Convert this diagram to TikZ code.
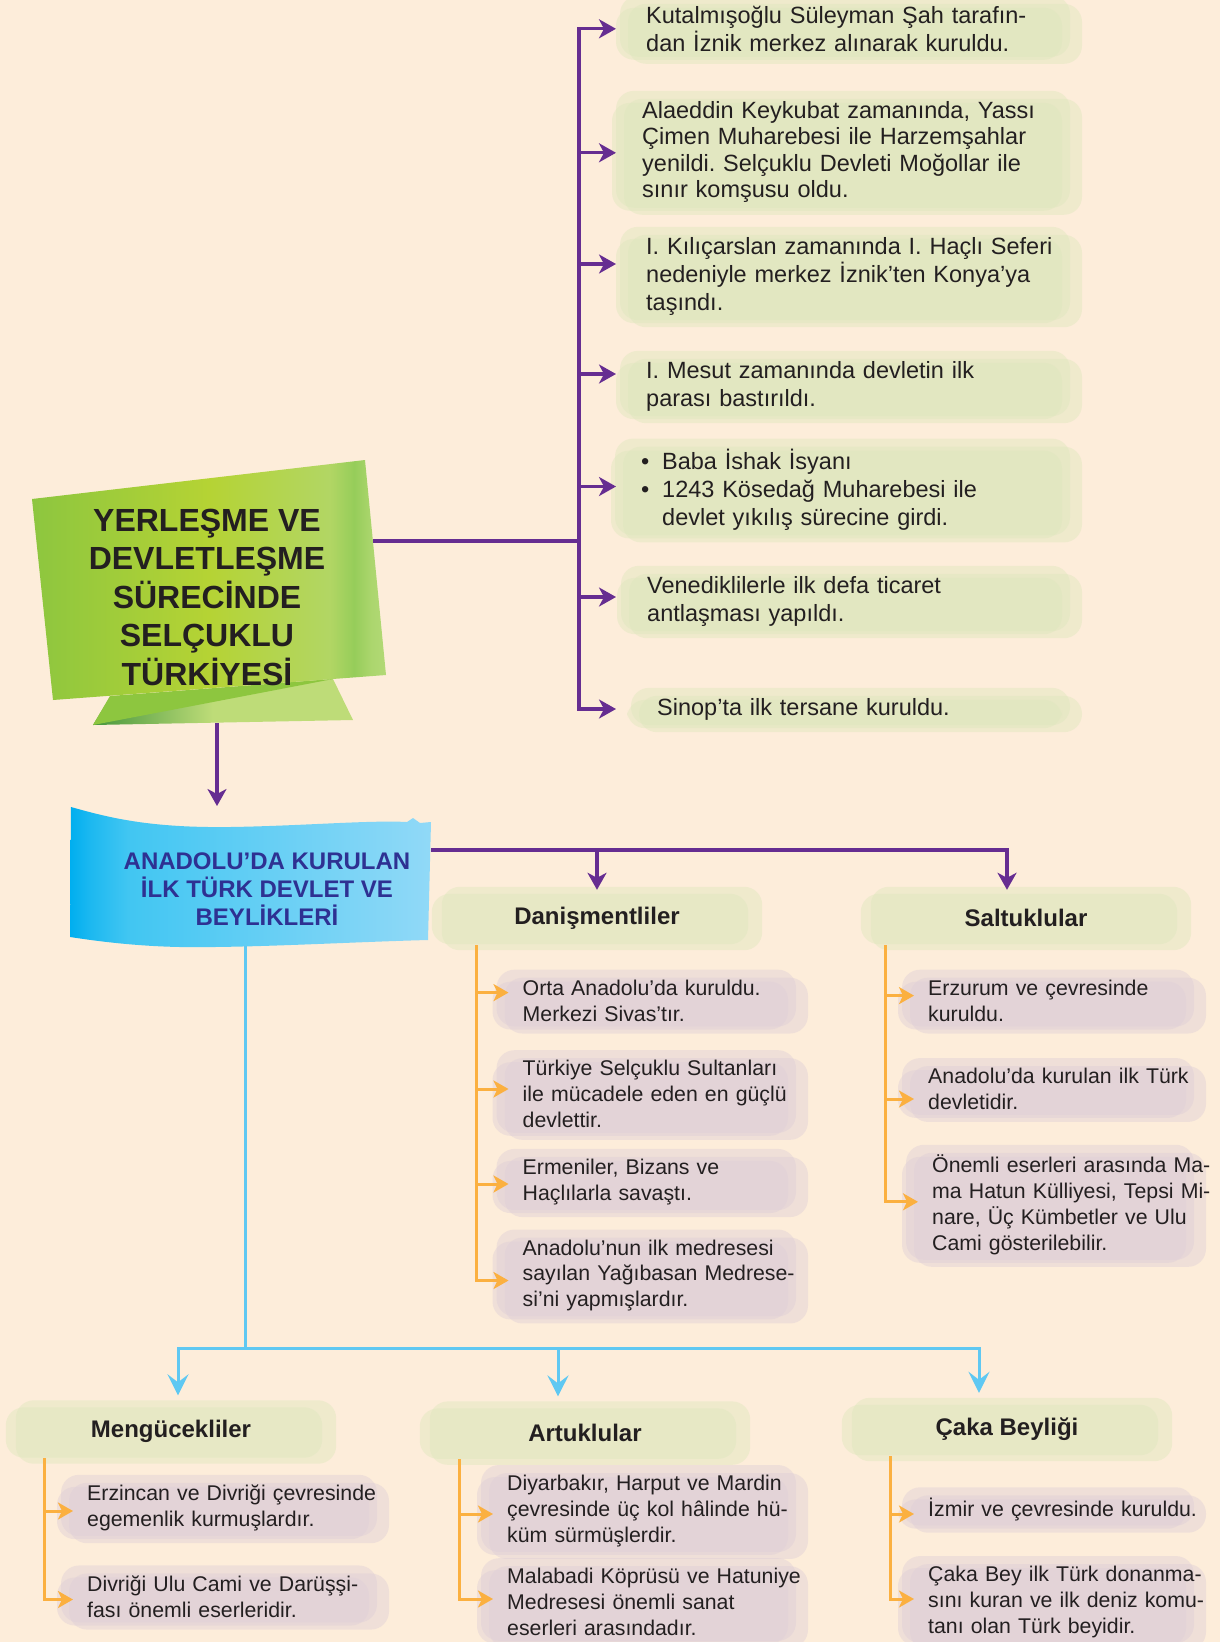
\documentclass[tikz,border=0pt]{standalone}
\usepackage{fontspec}
\setmainfont{Liberation Sans}
\usetikzlibrary{arrows.meta,positioning,calc,backgrounds}
\frenchspacing

\definecolor{bgc}{RGB}{253,237,218}
\definecolor{purp}{RGB}{102,45,145}
\definecolor{oran}{RGB}{251,176,64}
\definecolor{skyb}{RGB}{95,200,242}
\definecolor{gbl}{RGB}{222,231,189}
\definecolor{mbl}{RGB}{223,207,215}
\definecolor{navy}{RGB}{46,49,146}
\definecolor{ink}{RGB}{35,31,32}
\definecolor{gA}{RGB}{141,198,63}
\definecolor{gB}{RGB}{181,211,52}
\definecolor{gC}{RGB}{178,214,100}
\definecolor{gD}{RGB}{150,205,90}
\definecolor{gE}{RGB}{172,214,110}
\definecolor{gF}{RGB}{178,217,118}
\definecolor{fA}{RGB}{70,150,60}
\definecolor{fB}{RGB}{190,220,120}
\definecolor{cA}{RGB}{0,174,239}
\definecolor{cB}{RGB}{30,185,240}
\definecolor{cC}{RGB}{65,198,242}
\definecolor{cD}{RGB}{145,217,247}

\pgfdeclarehorizontalshading{greenbox}{100bp}{color(0bp)=(gA); color(25bp)=(gA); color(50bp)=(gB); color(67bp)=(gC); color(70.5bp)=(gD); color(73bp)=(gE); color(75bp)=(gF); color(100bp)=(gF)}
\pgfdeclarehorizontalshading{greenfold}{100bp}{color(0bp)=(fA); color(25bp)=(fA); color(48bp)=(fB); color(100bp)=(fB)}
\pgfdeclarehorizontalshading{bluebanner}{100bp}{color(0bp)=(cA); color(25bp)=(cA); color(28bp)=(cB); color(33bp)=(cC); color(75bp)=(cD); color(100bp)=(cD)}

\begin{document}
\begin{tikzpicture}
[x=1pt,y=-1pt,
pline/.style={draw=purp,line width=3.2pt},
parrow/.style={pline,-{Stealth[length=17pt,width=19pt,inset=5pt]}},
oline/.style={draw=oran,line width=3pt},
oarrow/.style={oline,-{Stealth[length=15pt,width=17pt,inset=4pt]}},
bline/.style={draw=skyb,line width=3pt},
barrow/.style={bline,-{Stealth[length=21pt,width=21pt,inset=8pt]}},
trunk/.style={line cap=rect},
ptext/.style={anchor=west,align=left,text width=415pt,inner sep=0pt,text=ink,font=\fontsize{23.5}{28}\selectfont},
otext/.style={anchor=west,align=left,text width=300pt,inner sep=0pt,text=ink,font=\fontsize{21.3}{25.8}\selectfont},
hdr/.style={minimum width=330pt,minimum height=56pt,inner sep=0pt,text=ink,font=\bfseries\fontsize{24}{28}\selectfont},
blob/.style={rounded corners=18pt,fill opacity=.45}]
\useasboundingbox (0,0) rectangle (1220,1642);
\begin{pgfonlayer}{background}
\fill[bgc] (0,0) rectangle (1220,1642);
\end{pgfonlayer}
%%
%% title ribbon
\shade[shading=greenfold] (93,725) -- (110,697) -- (333,679) -- (353,720) -- cycle;
\fill[gA] (93,725) -- (110,696) -- (333,679) -- cycle;
\shade[shading=greenbox] (32,499) -- (365,460) -- (386,675) -- (53,700) -- cycle;
\node (title) [align=center,text=ink,font=\bfseries\fontsize{32}{38.5}\selectfont] at (207,597) {YERLEŞME VE\\DEVLETLEŞME\\SÜRECİNDE\\SELÇUKLU\\TÜRKİYESİ};
%% blue banner
\shade[shading=bluebanner] (71,807) .. controls (110,818) and (150,828) .. (230,827) .. controls (300,826) and (370,820) .. (407,822) -- (413,818) -- (420,823) -- (431,822) -- (428,940) .. controls (350,942) and (250,948) .. (180,947) .. controls (130,946) and (90,940) .. (70,937) -- cycle;
\node (ban) [align=center,text=navy,font=\bfseries\fontsize{24}{28}\selectfont] at (267,889) {ANADOLU’DA KURULAN\\İLK TÜRK DEVLET VE\\BEYLİKLERİ};
%%
%% purple column
\node (p1) [ptext] at (646,28.8) {Kutalmışoğlu Süleyman Şah tarafın-\\dan İznik merkez alınarak kuruldu.};
\node (p2) [ptext,font=\fontsize{23.5}{26.5}\selectfont] at (642,151.8) {Alaeddin Keykubat zamanında, Yassı\\Çimen Muharebesi ile Harzemşahlar\\yenildi. Selçuklu Devleti Moğollar ile\\sınır komşusu oldu.};
\node (p3) [ptext] at (646,276) {I. Kılıçarslan zamanında I. Haçlı Seferi\\nedeniyle merkez İznik’ten Konya’ya\\taşındı.};
\node (p4) [ptext] at (646,386) {I. Mesut zamanında devletin ilk\\parası bastırıldı.};
\node (p5) [ptext] at (641,489.5) {\makebox[21pt][l]{•}Baba İshak İsyanı\\\makebox[21pt][l]{•}1243 Kösedağ Muharebesi ile\\\hspace*{21pt}devlet yıkılış sürecine girdi.};
\node (p6) [ptext] at (647,601) {Venediklilerle ilk defa ticaret\\antlaşması yapıldı.};
\node (p7) [ptext] at (657,709) {Sinop’ta ilk tersane kuruldu.};
%%
%% headers
\node (dan) [hdr] at (597,918) {Danişmentliler};
\node (sal) [hdr] at (1026,918) {Saltuklular};
\node (men) [hdr] at (171,1431.5) {Mengücekliler};
\node (art) [hdr] at (585,1432.6) {Artuklular};
\node (cak) [hdr] at (1007,1429) {Çaka Beyliği};
%%
\node (d1) [otext] at (522.5,1000.6) {Orta Anadolu’da kuruldu.\\Merkezi Sivas’tır.};
\node (d2) [otext] at (522.5,1094) {Türkiye Selçuklu Sultanları\\ile mücadele eden en güçlü\\devlettir.};
\node (d3) [otext] at (522.5,1182) {Ermeniler, Bizans ve\\Haçlılarla savaştı.};
\node (d4) [otext] at (522.5,1275.5) {Anadolu’nun ilk medresesi\\sayılan Yağıbasan Medrese-\\si’ni yapmışlardır.};
\node (s1) [otext] at (928,1000.6) {Erzurum ve çevresinde\\kuruldu.};
\node (s2) [otext] at (928,1089) {Anadolu’da kurulan ilk Türk\\devletidir.};
\node (s3) [otext] at (932,1204.8) {Önemli eserleri arasında Ma-\\ma Hatun Külliyesi, Tepsi Mi-\\nare, Üç Kümbetler ve Ulu\\Cami gösterilebilir.};
\node (m1) [otext] at (87,1508) {Erzincan ve Divriği çevresinde\\egemenlik kurmuşlardır.};
\node (m2) [otext] at (87,1596.5) {Divriği Ulu Cami ve Darüşşi-\\fası önemli eserleridir.};
\node (a1) [otext] at (507,1511) {Diyarbakır, Harput ve Mardin\\çevresinde üç kol hâlinde hü-\\küm sürmüşlerdir.};
\node (a2) [otext] at (507,1602) {Malabadi Köprüsü ve Hatuniye\\Medresesi önemli sanat\\eserleri arasındadır.};
\node (c1) [otext] at (928,1509) {İzmir ve çevresinde kuruldu.};
\node (c2) [otext] at (928,1602) {Çaka Bey ilk Türk donanma-\\sını kuran ve ilk deniz komu-\\tanı olan Türk beyidir.};
%%
%% purple connectors
\coordinate (gr) at (373,541);
\coordinate (ptop) at (579,0 |- p1.west);
\coordinate (pbot) at (579,0 |- p7.west);
\draw[pline,trunk] (ptop) -- (pbot);
\draw[pline] (gr) -- (gr -| ptop);
\foreach \n/\dy in {p1/0,p2/-1,p3/12,p4/12,p5/3,p6/4,p7/0}
  \draw[parrow] ([yshift=\dy*1pt]ptop |- \n.west) -- ([yshift=\dy*1pt]616,0 |- \n.west);
\coordinate (gb) at (217,723);
\coordinate (bt) at (217,806);
\draw[parrow] (gb) -- (bt);
\coordinate (br) at (431,850);
\draw[parrow] (br) -- ([xshift=-19pt]sal.north |- br) -- ([xshift=-19pt]sal.north);
\draw[parrow] (dan.north |- br) -- (dan.north);
%%
%% blue connectors
\coordinate (bb) at (245,946);
\coordinate (bj) at (245,1348);
\draw[bline] (bb) -- (bj);
\draw[bline,{Stealth[length=21pt,width=21pt,inset=8pt]}-{Stealth[length=21pt,width=21pt,inset=8pt]}] ([xshift=7pt,yshift=8pt]men.north) -- ([xshift=7pt]men.north |- bj) -- ([xshift=-28pt]cak.north |- bj) -- ([xshift=-28pt,yshift=8pt]cak.north);
\draw[barrow] ([xshift=-27pt]art.north |- bj) -- ([xshift=-27pt,yshift=8pt]art.north);
%%
%% orange connectors
\foreach \hd/\x/\last/\dy in {dan/476.5/d4/-5,sal/885/s3/3,men/44/m2/-3,art/459/a2/3,cak/890/c2/3}
  \draw[oline,trunk] (\x,0 |- \hd.south) -- ([yshift=\dy*1pt]\x,0 |- \last.west);
\foreach \n/\x/\dy in {d1/476.5/8,d2/476.5/5,d3/476.5/-2,d4/476.5/-5,s1/885/5,s2/885/-10,s3/885/3,m1/44/-3,m2/44/-3,a1/459/-3,a2/459/3,c1/890/-5,c2/890/3}
  \draw[oarrow] ([yshift=\dy*1pt]\x,0 |- \n.west) -- ([xshift=-14pt,yshift=\dy*1pt]\n.west);
%%
%% brush marks behind texts
\begin{pgfonlayer}{background}
\foreach \n/\rx/\col in {p1/1070/gbl,p2/1070/gbl,p3/1070/gbl,p4/1070/gbl,p5/1070/gbl,p6/1070/gbl,p7/1070/gbl,d1/796/mbl,d2/796/mbl,d3/796/mbl,d4/796/mbl,s1/1194/mbl,s2/1194/mbl,s3/1194/mbl,m1/377/mbl,m2/377/mbl,a1/796/mbl,a2/796/mbl,c1/1194/mbl,c2/1194/mbl}{
  \fill[blob,\col] ([xshift=-26pt,yshift=10pt]\n.north west) rectangle ([yshift=-5pt]\rx,0 |- \n.south);
  \fill[blob,\col] ([xshift=-18pt,yshift=2pt]\n.north west) rectangle ([xshift=12pt,yshift=-12pt]\rx,0 |- \n.south);
  \fill[blob,\col] ([xshift=-30pt,yshift=-2pt]\n.north west) rectangle ([xshift=-8pt,yshift=-8pt]\rx,0 |- \n.south);
}
\foreach \n in {dan,sal,men,art,cak}{
  \fill[blob,gbl] ([yshift=-4pt]\n.north west) rectangle ([xshift=-14pt,yshift=2pt]\n.south east);
  \fill[blob,gbl] ([xshift=10pt,yshift=3pt]\n.north west) rectangle ([yshift=-4pt]\n.south east);
}
\end{pgfonlayer}
\end{tikzpicture}
\end{document}
